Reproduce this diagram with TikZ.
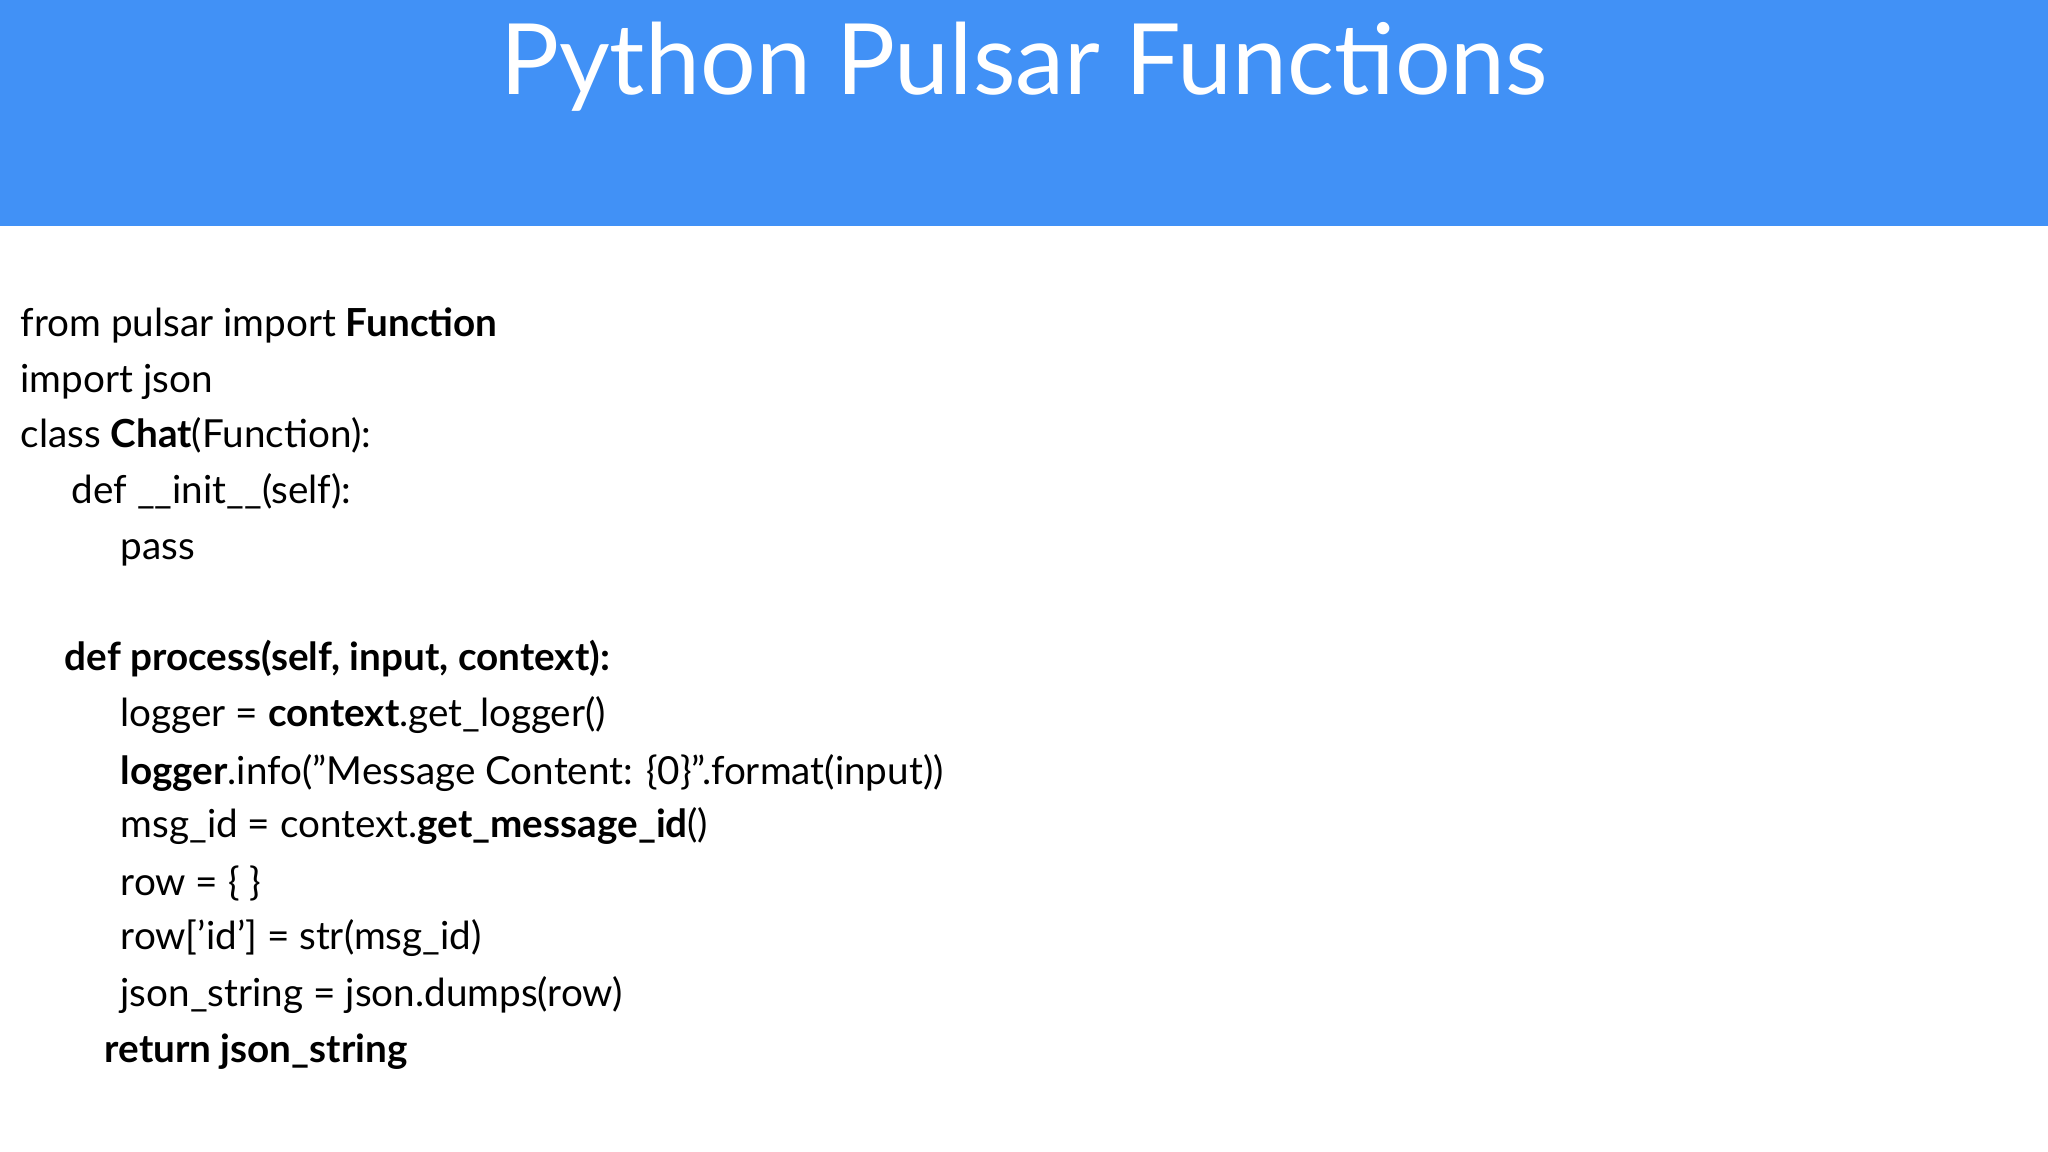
\documentclass[tikz,border=0pt]{standalone}
\usepackage{fontspec}
\setmainfont{Lato}
\definecolor{bandblue}{HTML}{4191F6}
\begin{document}
\begin{tikzpicture}[x=1cm,y=1cm,
  codeline/.style={anchor=base west,inner sep=0pt,font=\fontsize{11}{13}\selectfont},
  titletext/.style={anchor=base,inner sep=0pt,text=white,font=\fontsize{28}{32}\selectfont}]
	\useasboundingbox (0,0) rectangle (20.48,-11.52);
	\fill[bandblue] (0,0) rectangle (20.48,-2.26);
	\node[titletext] (title) at (10.24,-0.95) {Python Pulsar Functions};
	% code lines
	\node[codeline] (l1)  at (0.20,-3.37) {from pulsar import \textbf{Function}};
	\node[codeline] (l2)  at (0.20,-3.93) {import json};
	\node[codeline] (l3)  at (0.20,-4.48) {class \textbf{Chat}(Function):};
	\node[codeline] (l4)  at (0.71,-5.04) {def \_\_init\_\_(self):};
	\node[codeline] (l5)  at (1.20,-5.60) {pass};
	\node[codeline] (l6)  at (0.64,-6.71) {\textbf{def process(self, input, context):}};
	\node[codeline] (l7)  at (1.20,-7.27) {logger = \textbf{context}.get\_logger()};
	\node[codeline] (l8)  at (1.20,-7.84) {\textbf{logger}.info("Message Content: \{0\}".format(input))};
	\node[codeline] (l9)  at (1.20,-8.38) {msg\_id = context.\textbf{get\_message\_id}()};
	\node[codeline] (l10) at (1.20,-8.95) {row = \{ \}};
	\node[codeline] (l11) at (1.20,-9.49) {row['id'] = str(msg\_id)};
	\node[codeline] (l12) at (1.20,-10.06) {json\_string = json.dumps(row)};
	\node[codeline] (l13) at (1.04,-10.62) {\textbf{return json\_string}};
\end{tikzpicture}
\end{document}
